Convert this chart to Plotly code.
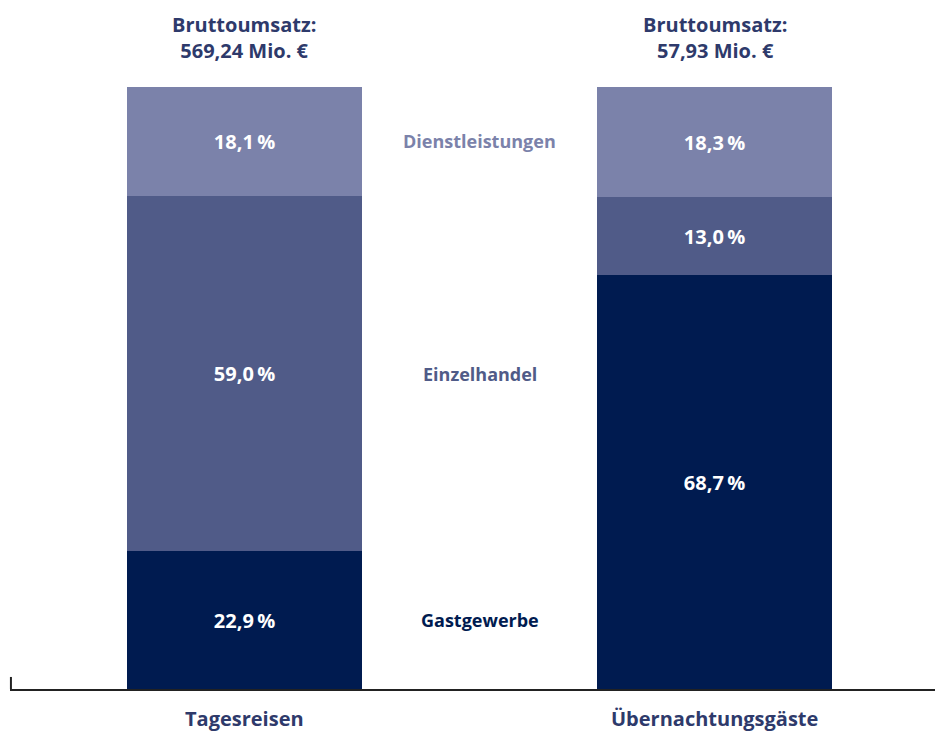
import plotly.graph_objects as go

categories = ["Tagesreisen", "Übernachtungsgäste"]
segments = ["Gastgewerbe", "Einzelhandel", "Dienstleistungen"]
gastgewerbe = [22.9, 68.7]
einzelhandel = [59.0, 13.0]
dienstleistungen = [18.1, 18.3]
umsatz_labels = ["Bruttoumsatz:<br>569,24 Mio. €", "Bruttoumsatz:<br>57,93 Mio. €"]

colors = ["#001B50", "#505B88", "#7B82AA"]
values = [gastgewerbe, einzelhandel, dienstleistungen]
FONT = "Open Sans"
TXT = "#2E3A6B"

def fmt(v):
    return f"{v:.1f}".replace(".", ",") + "\u2009%"

fig = go.Figure()
for name, vals, col in zip(segments, values, colors):
    fig.add_trace(go.Bar(
        x=[0, 1], y=vals, name=name, marker=dict(color=col, line=dict(width=0)),
        width=0.5, text=[fmt(v) for v in vals], textposition="inside",
        insidetextanchor="middle", constraintext="none",
        textfont=dict(color="white", size=20, family=FONT, weight="bold"),
        hoverinfo="skip",
    ))

# segment names between the bars, centered on the left bar's segments
cum = 0
for name, vals, col in zip(segments, values, colors):
    center = cum + vals[0] / 2
    cum += vals[0]
    fig.add_annotation(x=0.5, y=center, text=name, showarrow=False,
                       font=dict(color=col, size=18, family=FONT, weight="bold"))

# headline above each bar
for i, t in enumerate(umsatz_labels):
    fig.add_annotation(x=i, y=100, text=t, showarrow=False, yanchor="bottom",
                       yshift=22, borderpad=0,
                       font=dict(color=TXT, size=20, family=FONT, weight="bold"))

# category labels below the axis
for i, c in enumerate(categories):
    fig.add_annotation(x=i, y=0, text=c, showarrow=False, yanchor="middle",
                       yshift=-29, font=dict(color=TXT, size=20, family=FONT, weight="bold"))

# small vertical tick at the axis start
fig.add_shape(type="line", xref="paper", yref="y", x0=0.001, x1=0.001, y0=0, y1=2,
              line=dict(color="#222222", width=2))

fig.update_layout(
    barmode="stack", width=935, height=725, showlegend=False,
    plot_bgcolor="white", paper_bgcolor="white",
    margin=dict(l=2, r=0, t=79, b=44),
    bargap=0,
)
fig.update_xaxes(range=[-0.498, 1.485], showticklabels=False,
                 showline=True, linecolor="#222222", linewidth=2, ticks="",
                 showgrid=False, zeroline=False)
fig.update_yaxes(range=[0, 100], visible=False, showgrid=False)

fig.write_html("out.html")
